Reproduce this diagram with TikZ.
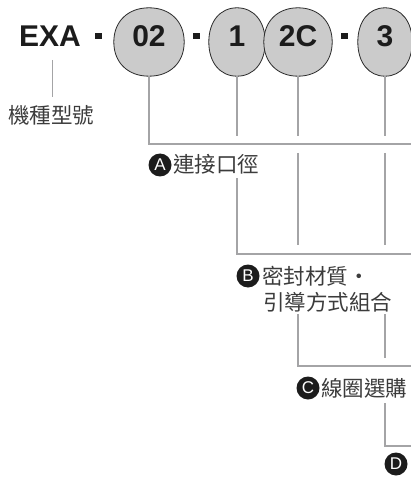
\documentclass[tikz,border=0pt]{standalone}
\usepackage{fontspec}
\setmainfont{Liberation Sans}
\newfontfamily\cjk{Noto Sans CJK TC}
\usetikzlibrary{calc}
\definecolor{leadgray}{HTML}{A4A4A6}
\definecolor{pillfill}{HTML}{CBCBCB}
\definecolor{pillline}{HTML}{2A2A2A}
\definecolor{ink}{HTML}{1C1C1C}
\definecolor{labcol}{HTML}{3C3C3C}
\pgfdeclarelayer{bg}
\pgfsetlayers{bg,main}
\newcommand\pillbg[1]{%
  \filldraw[pillshape]
    (#1.north) .. controls ($(#1.north)!0.6!(#1.north east)$) and ($(#1.east)!0.6!(#1.north east)$) .. (#1.east)
    .. controls ($(#1.east)!0.6!(#1.south east)$) and ($(#1.south)!0.6!(#1.south east)$) .. (#1.south)
    .. controls ($(#1.south)!0.6!(#1.south west)$) and ($(#1.west)!0.6!(#1.south west)$) .. (#1.west)
    .. controls ($(#1.west)!0.6!(#1.north west)$) and ($(#1.north)!0.6!(#1.north west)$) .. (#1.north) -- cycle;}
\begin{document}
\begin{tikzpicture}[x=1pt,y=-1pt,
  lead/.style={draw=leadgray, line width=2.4pt},
  thinlead/.style={draw=leadgray, line width=0.9pt},
  pillshape/.style={draw=pillline, line width=0.8pt, fill=pillfill},
  pill/.style={inner sep=0pt, text height=21.5pt, text depth=11.5pt, minimum height=68pt,
    font=\bfseries\fontsize{30}{30}\selectfont, text=ink},
  bigtxt/.style={inner sep=0pt, font=\bfseries\fontsize{30}{30}\selectfont, text=ink},
  sep/.style={fill=ink, inner sep=0pt, minimum width=7pt, minimum height=5.5pt},
  badge/.style={circle, fill=ink, text=white, minimum size=23pt, inner sep=0pt,
    font=\fontsize{17}{17}\selectfont},
  lab/.style={anchor=base west, inner sep=0pt, font=\cjk\fontsize{21.5}{26}\selectfont, text=labcol}
]
\useasboundingbox (0,0) rectangle (411,478);

% header
\node[bigtxt, anchor=base west] (exa) at (19,47) {EXA};
\node[sep] (d1) at (98.5,36) {};
\node[pill, minimum width=70pt] (p02) at (149,42) {02};
\node[sep] (d2) at (196.5,36) {};
\node[pill, minimum width=56pt] (p1) at (237,42) {1};
\node[pill, minimum width=68pt] (p2C) at (298,42) {2C};
\node[sep] (d3) at (344.5,36) {};
\node[pill, minimum width=54pt] (p3) at (385,42) {3};
\begin{pgfonlayer}{bg}
  \pillbg{p02}
  \pillbg{p1}
  \pillbg{p2C}
  \pillbg{p3}
\end{pgfonlayer}

% model label
\coordinate (tk1) at (52,60);
\coordinate (tk2) at (52,97);
\draw[thinlead] (tk1) -- (tk2);
\node[lab] (model) at (8,124) {機種型號};

% coordinates
\coordinate (gapTop) at (0,136);
\coordinate (eA) at (411,144);
\coordinate (eB) at (411,254);
\coordinate (eC) at (411,366);
\coordinate (eD) at (411,446);

% leads
\draw[lead] (p02.south) |- (eA);
\draw[lead] (p1.south) -- (p1.south |- gapTop);
\draw[lead] (p2C.south) -- (p2C.south |- gapTop);
\draw[lead] (p3.south) -- (p3.south |- gapTop);

\coordinate (b1) at (237,178);
\draw[lead] (b1) |- (eB);
\coordinate (c1) at (298,153); \coordinate (c2) at (298,245);
\draw[lead] (c1) -- (c2);
\coordinate (c3) at (298,314);
\draw[lead] (c3) |- (eC);
\coordinate (f1) at (385,153); \coordinate (f2) at (385,245);
\draw[lead] (f1) -- (f2);
\coordinate (f3) at (385,314); \coordinate (f4) at (385,358);
\draw[lead] (f3) -- (f4);
\coordinate (f5) at (385,403);
\draw[lead] (f5) |- (eD);

% labels
\node[badge] (bA) at (160,165) {A};
\node[lab] (labA) at (173,173) {連接口徑};
\node[badge] (bB) at (248,276) {B};
\node[lab] (labB1) at (262,284) {密封材質・};
\node[lab] (labB2) at (263,310) {引導方式組合};
\node[badge] (bC) at (308,388) {C};
\node[lab] (labC) at (321,396) {線圈選購};
\node[badge] (bD) at (396,464) {D};
\end{tikzpicture}
\end{document}
